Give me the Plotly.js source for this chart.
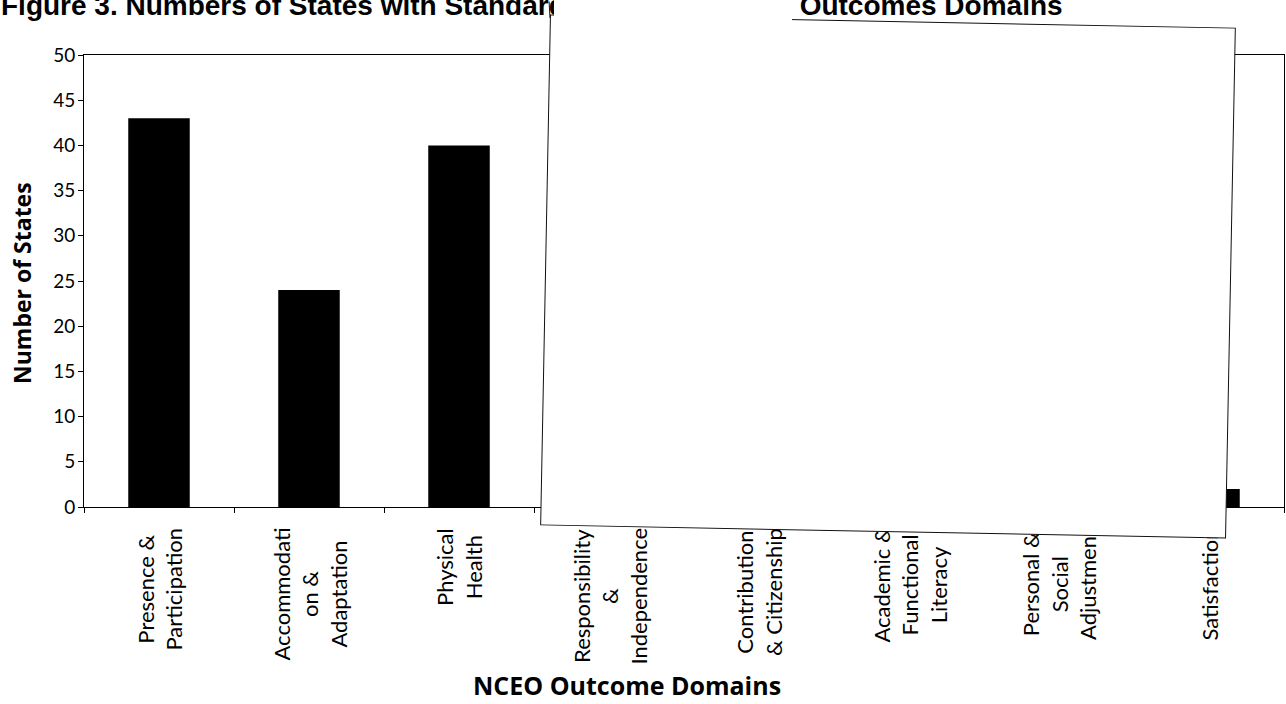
<!DOCTYPE html>
<html>
<head>
<meta charset="utf-8">
<script src="https://cdn.plot.ly/plotly-3.0.1.min.js"></script>
<style>
  html, body { margin: 0; padding: 0; background: #ffffff; overflow: hidden; }
  #chart { width: 1286px; height: 704px; }
</style>
</head>
<body>
<div id="chart"></div>
<script>
// ---- data ----
const categories = [
  "Presence & Participation",
  "Accommodation & Adaptation",
  "Physical Health",
  "Responsibility & Independence",
  "Contribution & Citizenship",
  "Academic & Functional Literacy",
  "Personal & Social Adjustment",
  "Satisfaction"
];
// tick labels as they are broken into lines in the reference
const tickLabels = [
  "Presence &<br>Participation",
  "Accommodati<br>on &<br>Adaptation",
  "Physical<br>Health",
  "Responsibility<br>&<br>Independence",
  "Contribution<br>& Citizenship",
  "Academic &<br>Functional<br>Literacy",
  "Personal &<br>Social<br>Adjustment",
  "Satisfaction"
];
// values hidden under the pasted-over sheet cannot be read -> null
const numberOfStates = [43, 24, 40, null, null, null, null, 2];
const yTickValues = [0, 5, 10, 15, 20, 25, 30, 35, 40, 45, 50];

const titleText = "Figure 3. Numbers of States with Standards Addressing the Outcomes Domains";
const yTitle = "Number of States";
const xTitle = "NCEO Outcome Domains";

// ---- geometry helpers (page pixels -> paper coords) ----
const W = 1286, H = 704;
const M = {l: 84, r: 2, t: 55, b: 197};
const PW = W - M.l - M.r, PH = H - M.t - M.b;
const px = x => (x - M.l) / PW;
const py = y => (H - M.b - y) / PH;

const labelFont = {family: "Lato, 'Open Sans', sans-serif", size: 22, color: "#000"};
const boldFont = size => ({family: "'Open Sans', Lato, sans-serif", size: size, color: "#000"});

const annotations = [];

// title (partly cut by the page top and by the pasted sheet)
annotations.push({
  xref: "paper", yref: "paper", x: px(-1), y: py(23),
  xanchor: "left", yanchor: "bottom", showarrow: false,
  text: "<b>" + titleText + "</b>",
  font: {family: "'Liberation Sans', Arial, sans-serif", size: 28, color: "#000"}
});

// category labels, rotated, lines centred
tickLabels.forEach((t, i) => {
  annotations.push({
    xref: "x", yref: "paper", x: i, y: py(526),
    xanchor: "center", yanchor: "top", showarrow: false,
    textangle: -90, align: "center",
    text: t, font: labelFont
  });
});

// axis titles
annotations.push({
  xref: "paper", yref: "paper", x: px(22), y: py(283),
  xanchor: "center", yanchor: "middle", showarrow: false, textangle: -90,
  text: "<b>" + yTitle + "</b>",
  font: boldFont(23)
});
annotations.push({
  xref: "paper", yref: "paper", x: px(627), y: py(685),
  xanchor: "center", yanchor: "middle", showarrow: false,
  text: "<b>" + xTitle + "</b>",
  font: boldFont(25)
});

// pasted-over sheet (white, slightly rotated, thin dark border)
annotations.push({
  xref: "paper", yref: "paper", x: px(888), y: py(276),
  xanchor: "center", yanchor: "middle", showarrow: false,
  text: " ", width: 684, height: 509, borderpad: 0,
  bgcolor: "#ffffff", bordercolor: "#111", borderwidth: 1,
  textangle: 1.1
});
// part of the sheet that hides the middle of the title
annotations.push({
  xref: "paper", yref: "paper", x: px(673), y: py(0),
  xanchor: "center", yanchor: "middle", showarrow: false,
  text: " ", width: 238, height: 44, borderpad: 0,
  bgcolor: "#ffffff", borderwidth: 0
});
// upper end of the sheet's left edge
annotations.push({
  xref: "paper", yref: "paper", x: px(550), y: py(18),
  axref: "pixel", ayref: "pixel", ax: -1, ay: -22,
  showarrow: true, arrowhead: 0, arrowwidth: 1, arrowcolor: "#111",
  standoff: 0, startstandoff: 0, text: ""
});

const trace = {
  type: "bar",
  x: categories,
  y: numberOfStates,
  width: 0.41,
  marker: {color: "#000000", line: {width: 0}},
  hoverinfo: "skip"
};

const layout = {
  width: W, height: H,
  margin: M,
  paper_bgcolor: "#ffffff",
  plot_bgcolor: "#ffffff",
  showlegend: false,
  font: {family: "Lato, sans-serif", color: "#000"},
  xaxis: {
    type: "category",
    range: [-0.5, 7.5],
    showticklabels: false,
    ticks: "outside", tickson: "boundaries", ticklen: 5, tickcolor: "#000",
    showline: true, linecolor: "#000", linewidth: 1, mirror: true,
    showgrid: false, zeroline: false, fixedrange: true
  },
  yaxis: {
    range: [0, 50],
    tickvals: yTickValues,
    ticks: "outside", ticklen: 5, tickcolor: "#000",
    ticklabelstandoff: -1,
    tickfont: {family: "Lato, sans-serif", size: 19, color: "#000"},
    showline: true, linecolor: "#000", linewidth: 1, mirror: true,
    showgrid: false, zeroline: false, fixedrange: true
  },
  annotations: annotations
};

Plotly.newPlot("chart", [trace], layout, {staticPlot: true, displayModeBar: false});
</script>
</body>
</html>
